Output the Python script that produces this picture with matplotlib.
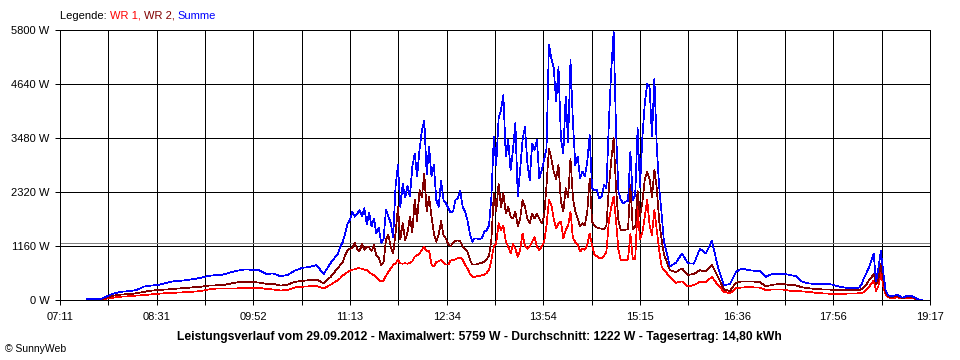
import numpy as np
import matplotlib
matplotlib.use("Agg")
import matplotlib.pyplot as plt

plt.rcParams['font.family'] = ['Liberation Sans', 'DejaVu Sans']

# sample times in minutes since midnight (coarser where the curve is smooth)
minutes = np.concatenate([np.arange(453, 658, 6), np.arange(663, 934, 2),
                          np.arange(935, 1091, 5), np.arange(1092, 1151, 2)])

summe = [
    # 07:33 - 10:57
    15, 18, 22, 90, 150, 180, 190, 215, 290, 310,
    325, 360, 400, 410, 430, 450, 480, 520, 535, 545,
    590, 630, 655, 650, 640, 560, 570, 510, 540, 630,
    690, 710, 750, 560, 800,
    # 11:03 - 15:33
    1000, 1150, 1250, 1430, 1640, 1720, 1900, 1790, 1850, 1930,
    1800, 1970, 1620, 1880, 1580, 1750, 1430, 1560, 1230, 1300,
    1930, 1800, 1650, 1350, 2430, 2900, 2000, 2500, 2200, 2450,
    2220, 2860, 3150, 2650, 3220, 3650, 3845, 2700, 3300, 2650,
    2900, 2150, 2000, 2570, 2150, 2080, 1970, 1880, 1900, 2150,
    2180, 2350, 2000, 1900, 1720, 1430, 1250, 1320, 1320, 1300,
    1330, 1460, 1500, 1600, 2220, 3500, 2900, 3900, 4080, 4400,
    3080, 3440, 2790, 3220, 3800, 2220, 2800, 3440, 3720, 2940,
    2580, 3360, 3220, 3440, 2610, 2790, 3010, 3260, 5480, 5190,
    4980, 4260, 5000, 3470, 3150, 4370, 3400, 5150, 3830, 2900,
    3080, 2610, 2760, 2650, 2970, 3540, 2400, 2360, 2360, 2180,
    2220, 2470, 2400, 3800, 4940, 5759, 3650, 2330, 2150, 2080,
    2110, 2130, 3190, 2150, 2260, 3690, 2430, 3510, 4220, 4650,
    4580, 3510, 4760, 3290, 2430, 1860,
    # 15:35 - 18:10
    1250, 720, 800, 1000, 790, 780, 1100, 1000, 1270, 710,
    320, 340, 600, 680, 644, 630, 620, 500, 555, 560,
    560, 540, 510, 400, 360, 345, 340, 340, 335, 295,
    270, 255,
    # 18:12 - 19:10
    255, 255, 255, 270, 340, 480, 580, 700, 850, 990,
    400, 700, 1050, 600, 200, 110, 80, 90, 100, 110,
    80, 50, 70, 90, 85, 80, 60, 30, 10, 0,
]

wr2 = [
    8, 10, 12, 60, 100, 120, 125, 145, 175, 200,
    215, 225, 235, 250, 260, 275, 285, 310, 315, 320,
    350, 380, 395, 390, 375, 350, 345, 310, 330, 390,
    410, 425, 440, 360, 500,
    690, 750, 820, 960, 1070, 1100, 1120, 1220, 1100, 1050,
    1200, 1080, 1150, 1130, 1050, 1180, 950, 900, 750, 800,
    1300, 1400, 1150, 1000, 1430, 2000, 1300, 1650, 1290, 1450,
    1790, 1450, 2150, 1700, 2360, 2200, 2720, 1900, 2220, 1800,
    1430, 1250, 1400, 1700, 1400, 1320, 1200, 1160, 1220, 1270,
    1280, 1260, 1150, 1100, 1040, 870, 760, 760, 770, 790,
    800, 820, 870, 950, 1300, 2290, 1900, 2500, 2000, 2300,
    1860, 2000, 1800, 1750, 1900, 1580, 1750, 2150, 2000, 1750,
    1650, 1850, 1750, 1850, 1750, 1650, 1800, 2470, 3250, 3040,
    2750, 2600, 2900, 2110, 1900, 2400, 2200, 3040, 2200, 1900,
    1750, 1580, 1650, 1600, 1900, 2600, 1680, 1600, 1560, 1540,
    1530, 1520, 1600, 2400, 3000, 3480, 2400, 1700, 1500, 1500,
    1510, 1520, 2470, 1520, 1560, 2350, 1800, 2100, 2600, 2750,
    2600, 2200, 2800, 2400, 1700, 1300,
    980, 640, 600, 680, 540, 560, 640, 610, 750, 500,
    230, 190, 370, 400, 400, 395, 385, 290, 325, 340,
    340, 325, 315, 275, 255, 240, 230, 225, 218, 215,
    212, 210,
    210, 210, 212, 215, 240, 290, 340, 420, 480, 560,
    330, 450, 780, 450, 160, 90, 60, 70, 75, 80,
    60, 40, 50, 65, 60, 55, 45, 20, 5, 0,
]

wr1 = [
    4, 6, 8, 35, 55, 75, 80, 95, 105, 120,
    135, 145, 155, 160, 170, 180, 195, 225, 245, 250,
    250, 250, 260, 265, 260, 240, 225, 205, 215, 270,
    285, 295, 300, 250, 330,
    430, 470, 530, 560, 600, 630, 650, 660, 680, 680,
    670, 650, 640, 600, 560, 530, 480, 430, 395, 420,
    520, 600, 680, 750, 790, 860, 790, 780, 790, 780,
    800, 830, 930, 960, 1000, 1080, 1140, 1040, 1060, 760,
    720, 820, 830, 860, 800, 760, 760, 850, 860, 875,
    900, 915, 860, 760, 680, 570, 500, 500, 510, 520,
    530, 540, 580, 650, 860, 1150, 1220, 1650, 1500, 1600,
    1250, 1150, 1000, 1200, 1100, 930, 1074, 1430, 1150, 1100,
    1150, 1250, 1360, 1150, 1074, 1150, 1250, 1600, 2150, 2040,
    1750, 1540, 1650, 1680, 1320, 1500, 1600, 1900, 1330, 1250,
    1180, 1040, 1100, 1080, 1180, 1430, 1180, 970, 940, 900,
    895, 950, 1040, 1700, 2000, 2220, 1700, 1074, 860, 850,
    860, 870, 1430, 870, 880, 2000, 1300, 1450, 1790, 2150,
    1600, 1400, 1930, 1500, 1074, 720,
    640, 500, 370, 400, 290, 320, 390, 380, 500, 320,
    180, 140, 250, 270, 275, 272, 265, 215, 225, 225,
    222, 200, 195, 185, 175, 160, 145, 140, 132, 130,
    135, 140,
    140, 140, 142, 145, 150, 170, 230, 280, 350, 420,
    200, 300, 600, 300, 110, 60, 40, 45, 50, 55,
    40, 30, 35, 45, 40, 40, 30, 15, 5, 0,
]

x_labels = ["07:11", "08:31", "09:52", "11:13", "12:34",
            "13:54", "15:15", "16:36", "17:56", "19:17"]
y_ticks = [0, 1160, 2320, 3480, 4640, 5800]
durchschnitt = 1222

t_start, t_end = 431, 1157  # 07:11 .. 19:17
px = 0.72

fig = plt.figure(figsize=(9.6, 3.6), dpi=100)
ax = fig.add_axes([60 / 960, 60 / 360, 870 / 960, 270 / 360])

xt = np.linspace(t_start, t_end, 19)
ax.set_xticks(xt)
ax.set_xticklabels([x_labels[i // 2] if i % 2 == 0 else "" for i in range(19)])
ax.set_yticks(y_ticks)
ax.set_yticklabels([f"{v} W" for v in y_ticks])
ax.set_xlim(t_start, t_end)
ax.set_ylim(0, 5800)

ax.grid(True, color="black", linewidth=px, antialiased=False, zorder=1)
ax.set_axisbelow(True)
for s in ax.spines.values():
    s.set_color("black")
    s.set_linewidth(px)
ax.tick_params(length=3.6, width=px, labelsize=8, color="black")
ax.tick_params(axis="x", pad=5)
ax.tick_params(axis="y", pad=4)

lw = 0.5
ax.axhline(durchschnitt, color="#808080", linewidth=px, antialiased=False, zorder=2)
ax.plot(minutes, wr1, color="#ff0000", linewidth=lw, antialiased=False, zorder=3)
ax.plot(minutes, wr2, color="#800000", linewidth=lw, antialiased=False, zorder=4)
ax.plot(minutes, summe, color="#0000ff", linewidth=lw, antialiased=False, zorder=5)

# legend as coloured text pieces in one line
fig.canvas.draw()
renderer = fig.canvas.get_renderer()
xpos = 60
for txt, col in [("Legende: ", "black"), ("WR 1, ", "#ff0000"),
                 ("WR 2, ", "#800000"), ("Summe", "#0000ff")]:
    t = fig.text(xpos / 960, 1 - 16 / 360, txt, color=col, fontsize=8, va="center")
    xpos += t.get_window_extent(renderer).width

fig.text(479 / 960, 1 - 337 / 360,
         "Leistungsverlauf vom 29.09.2012 - Maximalwert: 5759 W - "
         "Durchschnitt: 1222 W - Tagesertrag: 14,80 kWh",
         ha="center", va="center", fontsize=8.7, fontweight="bold")
fig.text(5 / 960, 1 - 349 / 360, "© SunnyWeb", fontsize=7.5, va="center")

fig.savefig("out.png", dpi=100)
